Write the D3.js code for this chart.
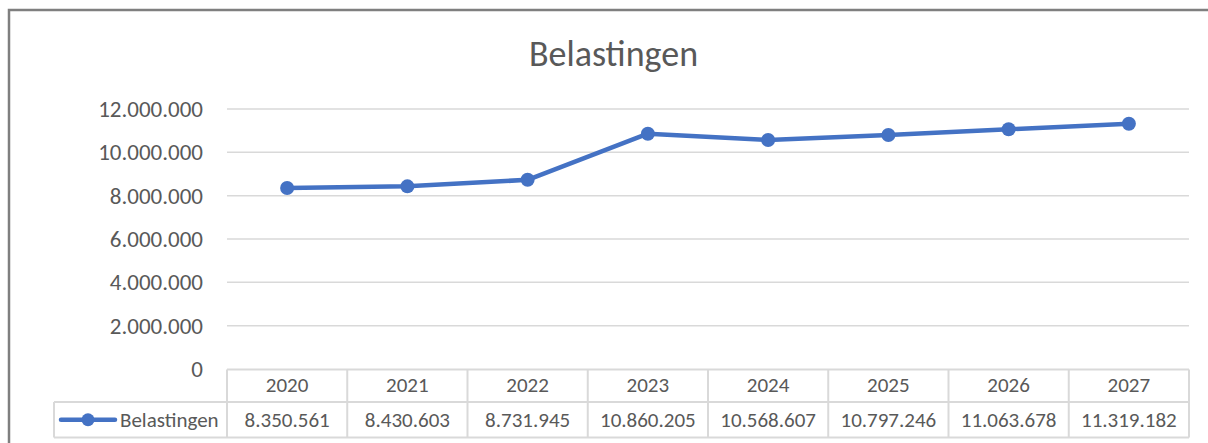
<!DOCTYPE html>
<html><head><meta charset="utf-8">
<script src="https://cdn.jsdelivr.net/npm/d3@7"></script>
<style>body{margin:0;background:#fff;}svg{display:block;font-family:Calibri,Carlito,"Open Sans",sans-serif;}</style>
</head><body>
<svg id="c" width="1208" height="443"></svg>
<script>
const categories = ["2020","2021","2022","2023","2024","2025","2026","2027"];
const values = [8350561, 8430603, 8731945, 10860205, 10568607, 10797246, 11063678, 11319182];
const yTicks = [0, 2000000, 4000000, 6000000, 8000000, 10000000, 12000000];
const seriesName = "Belastingen";
const title = "Belastingen";

const svg = d3.select("#c");
const fmt = v => d3.format(",")(v).replace(/,/g, ".");
const textCol = "#595959";
const gridCol = "#d9d9d9";
const lineCol = "#4472C4";
const ff = "Calibri,Carlito,'Open Sans',sans-serif";

// frame
svg.append("rect").attr("x",9).attr("y",10).attr("width",1240).attr("height",460)
  .attr("fill","none").attr("stroke","#7f7f7f").attr("stroke-width",2.5);

const x = d3.scaleBand().domain(categories).range([227,1189]);
const y = d3.scaleLinear().domain([0,12000000]).range([369,109]);

svg.append("text").attr("x",613.5).attr("y",66).attr("text-anchor","middle")
  .attr("fill",textCol).attr("font-size",36).text(title);

// gridlines
svg.append("g").selectAll("line").data(yTicks.filter(d=>d>0)).join("line")
  .attr("x1",227).attr("x2",1189).attr("y1",d=>y(d)).attr("y2",d=>y(d))
  .attr("stroke",gridCol).attr("stroke-width",1.5);

// y axis labels
const yAxis = d3.axisLeft(y).tickValues(yTicks).tickFormat(fmt).tickSize(0).tickPadding(0);
const ga = svg.append("g").attr("transform","translate(203,0)").call(yAxis);
ga.select(".domain").remove();
ga.selectAll("text").attr("fill",textCol).attr("font-size",23).attr("font-family",ff).attr("dy","0.33em").attr("x",0);

// table
const tTop = 369.5, tMid = 402, tBot = 437.5, tLeft = 54;
const tg = svg.append("g");
function ln(x1,y1,x2,y2){tg.append("line").attr("x1",x1).attr("y1",y1).attr("x2",x2).attr("y2",y2).attr("stroke","#d9d9d9").attr("stroke-width",2);}
ln(227,tTop,1189,tTop);
ln(tLeft,tMid,1189,tMid);
ln(tLeft,tBot,1189,tBot);
ln(tLeft,tMid,tLeft,tBot);
categories.forEach(c=>ln(x(c),tTop,x(c),tBot));
ln(1189,tTop,1189,tBot);

tg.selectAll("text.cat").data(categories).join("text").attr("class","cat")
  .attr("x",d=>x(d)+x.bandwidth()/2).attr("y",385).attr("dy","0.33em")
  .attr("text-anchor","middle").attr("fill",textCol).attr("font-size",21).text(d=>d);
tg.selectAll("text.val").data(values).join("text").attr("class","val")
  .attr("x",(d,i)=>x(categories[i])+x.bandwidth()/2).attr("y",(tMid+tBot)/2).attr("dy","0.33em")
  .attr("text-anchor","middle").attr("fill",textCol).attr("font-size",21).text(d=>fmt(d));

// legend key
tg.append("line").attr("x1",61).attr("x2",115).attr("y1",(tMid+tBot)/2).attr("y2",(tMid+tBot)/2)
  .attr("stroke",lineCol).attr("stroke-width",4.5).attr("stroke-linecap","round");
tg.append("circle").attr("cx",88).attr("cy",(tMid+tBot)/2).attr("r",6.5).attr("fill",lineCol);
tg.append("text").attr("x",120).attr("y",(tMid+tBot)/2).attr("dy","0.33em")
  .attr("fill",textCol).attr("font-size",21).text(seriesName);

// line
const cx = (d,i)=>x(categories[i])+x.bandwidth()/2;
const line = d3.line().x((d,i)=>cx(d,i)).y(d=>y(d));
svg.append("path").datum(values).attr("d",line).attr("fill","none")
  .attr("stroke",lineCol).attr("stroke-width",4.5).attr("stroke-linejoin","round").attr("stroke-linecap","round");
svg.append("g").selectAll("circle").data(values).join("circle")
  .attr("cx",cx).attr("cy",d=>y(d)).attr("r",7).attr("fill",lineCol);
</script>
</body></html>
